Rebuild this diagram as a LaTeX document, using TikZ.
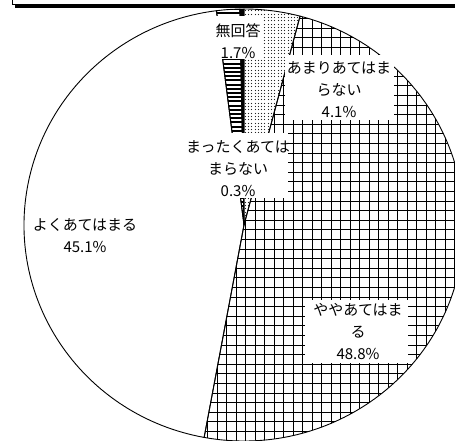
\documentclass[tikz,border=0pt]{standalone}
\usepackage{fontspec}
\setmainfont{Noto Sans CJK JP}
\begin{document}
\begin{tikzpicture}[x=1pt,y=-1pt,
  slice/.style={draw=black,line width=0.9pt,line join=round},
  gridline/.style={draw=black,line width=1.5pt},
  stripeline/.style={draw=black,line width=2pt},
  lbl/.style={align=center,inner sep=0pt,font=\fontsize{15}{22}\selectfont},
  lblbox/.style={fill=white}]
\useasboundingbox (0,0) rectangle (455,441);
\clip (0,0) rectangle (455,441);
\fill[white] (0,0) rectangle (455,441);
\coordinate (C) at (244,225);
% dotted slice (4.1%)
\begin{scope}
\clip (C) -- ++(-90:220 and 216) arc[start angle=-90,end angle=-75.24,x radius=220,y radius=216] -- cycle;
\foreach \i in {0,...,22}{\foreach \j in {0,...,66}{\fill[black!85] ({round(238+3.3*\i)+0.5},{round(7+3.3*\j)+0.5}) circle (0.6);}}
\end{scope}
% grid slice (48.8%)
\begin{scope}
\clip (C) -- ++(-75.24:220 and 216) arc[start angle=-75.24,end angle=100.44,x radius=220,y radius=216] -- cycle;
\foreach \i in {0,...,48}{\path[gridline] ({round(-2+9.5*\i)+0.5},0) -- ++(0,441);}
\foreach \i in {-5,...,40}{\path[gridline] (0,{round(383-9.6*\i)+0.5}) -- ++(455,0);}
\end{scope}
% striped slice (1.7%)
\begin{scope}
\clip (C) -- ++(262.8:220 and 216) arc[start angle=262.8,end angle=268.92,x radius=220,y radius=216] -- cycle;
\foreach \i in {0,...,55}{\path[stripeline] (210,{round(9+4.2*\i)}) -- (255,{round(9+4.2*\i)});}
\end{scope}
% outlines
\path[slice] (C) -- ++(-90:220 and 216) arc[start angle=-90,end angle=-75.24,x radius=220,y radius=216] -- cycle;
\path[slice] (C) -- ++(-75.24:220 and 216) arc[start angle=-75.24,end angle=100.44,x radius=220,y radius=216] -- cycle;
\path[slice] (C) -- ++(100.44:220 and 216) arc[start angle=100.44,end angle=262.8,x radius=220,y radius=216] -- cycle;
\path[slice] (C) -- ++(262.8:220 and 216) arc[start angle=262.8,end angle=268.92,x radius=220,y radius=216] -- cycle;
\path[slice,fill=black] (C) -- ++(268.92:220 and 216) arc[start angle=268.92,end angle=270,x radius=220,y radius=216] -- cycle;
% label boxes
\fill[lblbox] (210,16) rectangle (263,59);
\fill[lblbox] (285,55) rectangle (394,120);
\fill[lblbox] (183,133) rectangle (288,198);
\fill[lblbox] (305,300) rectangle (408,363);
% labels
\node[lbl] (l1) at (238,41) {無回答\\1.7\%};
\node[lbl] (l2) at (339,90) {あまりあてはま\\らない\\4.1\%};
\node[lbl] (l3) at (238,169) {まったくあては\\まらない\\0.3\%};
\node[lbl] (l4) at (358,332) {ややあてはま\\る\\48.8\%};
\node[lbl] (l5) at (85,236) {よくあてはまる\\45.1\%};
% top frame with shadow
\fill[black] (14.5,4.8) rectangle (455,8.5);
\draw[line width=0.8pt] (12.5,-5) -- (12.5,4.6) -- (455,4.6);
\end{tikzpicture}
\end{document}
